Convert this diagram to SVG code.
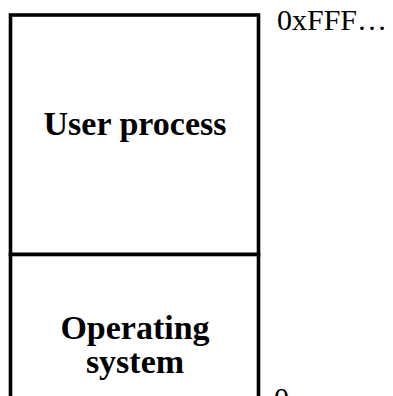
<svg xmlns="http://www.w3.org/2000/svg" width="393" height="396" viewBox="0 0 393 396">
<style>
.box{fill:#fff;stroke:#000;stroke-width:3.6}
.lbl{font-family:"Liberation Serif","Times New Roman",serif;font-weight:bold;font-size:34px;text-anchor:middle;fill:#000}
.addr{font-family:"Liberation Serif","Times New Roman",serif;font-size:30px;fill:#000}
</style>
<rect width="393" height="396" fill="#fff"/>
<g id="user-process">
<rect class="box" x="10.5" y="15" width="248" height="239.5"/>
<text class="lbl" x="135" y="135">User process</text>
</g>
<g id="operating-system">
<rect class="box" x="10.5" y="254.5" width="248" height="170"/>
<text class="lbl" x="135" y="339">Operating</text>
<text class="lbl" x="135" y="373">system</text>
</g>
<g id="connectors"></g>
<text class="addr" x="277" y="30">0xFFF…</text>
<text class="addr" x="274" y="408">0</text>
</svg>
